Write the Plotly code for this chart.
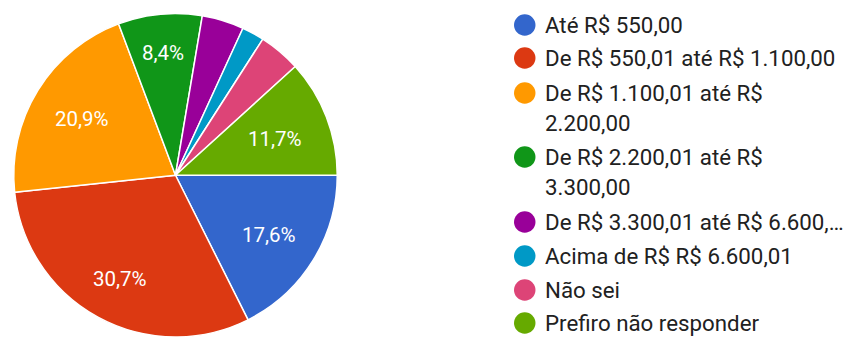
import math
import plotly.graph_objects as go

# Faixas de renda e número de respostas
categories = [
    "Até R$ 550,00",
    "De R$ 550,01 até R$ 1.100,00",
    "De R$ 1.100,01 até R$<br>2.200,00",
    "De R$ 2.200,01 até R$<br>3.300,00",
    "De R$ 3.300,01 até R$ 6.600,…",
    "Acima de R$ R$ 6.600,01",
    "Não sei",
    "Prefiro não responder",
]
responses = [63, 110, 75, 30, 15, 8, 15, 42]
colors = ["#3366cc", "#dc3912", "#ff9900", "#109618",
          "#990099", "#0099c6", "#dd4477", "#66aa00"]

W, H = 858, 337
FONT = "Roboto, Arial, sans-serif"

# geometria da pizza (domínio em fração da figura)
dom_x = [13 / W, 338 / W]
dom_y = [0, 0.96]
radius_px = min((dom_x[1] - dom_x[0]) * W, (dom_y[1] - dom_y[0]) * H) / 2
cx = (dom_x[0] + dom_x[1]) / 2
cy = (dom_y[0] + dom_y[1]) / 2
start_deg = 90  # primeira fatia começa às 3 horas, sentido horário

# distância do rótulo ao centro, em fração do raio (0 = sem rótulo)
label_r = [0.68, 0.72, 0.68, 0.77, 0, 0, 0, 0.66]

fig = go.Figure()
fig.add_trace(go.Pie(
    labels=categories,
    values=responses,
    sort=False,
    direction="clockwise",
    rotation=start_deg,
    marker=dict(colors=colors, line=dict(color="white", width=1.5)),
    textinfo="none",
    hoverinfo="label+percent",
    domain=dict(x=dom_x, y=dom_y),
    showlegend=False,
))

# rótulos de porcentagem sobre as fatias
total = sum(responses)
cum = 0
for v, rf in zip(responses, label_r):
    mid = math.radians(start_deg + 360 * (cum + v / 2) / total)
    cum += v
    if rf == 0:
        continue
    pct = f"{100 * v / total:.1f}".replace(".", ",") + "%"
    fig.add_annotation(
        x=cx + rf * radius_px * math.sin(mid) / W,
        y=cy + rf * radius_px * math.cos(mid) / H,
        xref="paper", yref="paper", xanchor="center", yanchor="middle",
        yshift=-2,
        text=pct, showarrow=False,
        font=dict(family=FONT, size=20.5, color="white"),
    )

# legenda: marcador circular + texto (linhas quebradas a 30 px)
row_y = [25, 58, 93, 157, 222, 256, 290, 323]
for name, col, y in zip(categories, colors, row_y):
    fig.add_shape(type="circle", xref="paper", yref="paper",
                  x0=514 / W, x1=535.5 / W,
                  y0=1 - (y + 10.75) / H, y1=1 - (y - 10.75) / H,
                  fillcolor=col, line=dict(width=0))
    for i, line in enumerate(name.split("<br>")):
        fig.add_annotation(x=543 / W, y=1 - (y + 30 * i) / H,
                           xref="paper", yref="paper",
                           xanchor="left", yanchor="middle", align="left",
                           text=line, showarrow=False,
                           font=dict(family=FONT, size=22.3, color="#212121"))

fig.update_layout(
    width=W, height=H,
    margin=dict(l=0, r=0, t=0, b=0),
    paper_bgcolor="white",
    plot_bgcolor="white",
)

fig.write_html("out.html")
